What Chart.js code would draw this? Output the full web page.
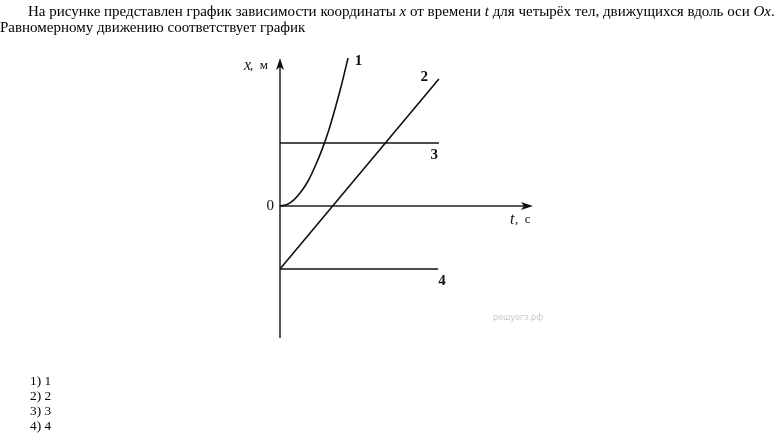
<!DOCTYPE html>
<html>
<head>
<meta charset="utf-8">
<script src="https://cdn.jsdelivr.net/npm/chart.js@4/dist/chart.umd.min.js"></script>
<style>
  body { margin: 0; background: #fff; font-family: "Liberation Serif", "Times New Roman", serif; color: #000; }
  #wrap { position: relative; width: 775px; height: 445px; overflow: hidden; }
  #chart { position: absolute; left: 0; top: 0; }
  .q { position: absolute; left: 0; top: 3px; font-size: 15px; line-height: 16px; white-space: nowrap; }
  .q .ind { padding-left: 28px; }
  .ans { position: absolute; left: 30px; top: 373px; font-size: 13.33px; line-height: 15px; }
</style>
</head>
<body>
<div id="wrap">
  <canvas id="chart" width="775" height="445"></canvas>
  <div class="q"><span class="ind">На рисунке представлен график зависимости координаты <i>x</i> от времени <i>t</i> для четырёх тел, движущихся вдоль оси <i>Ox</i>.</span><br>Равномерному движению соответствует график</div>
  <div class="ans">1) 1<br>2) 2<br>3) 3<br>4) 4</div>
</div>
<script>
// axis ranges (t in arbitrary units, x in arbitrary units)
const tRange = [0, 10];
const xRange = [-6.6, 7.4];

// graph 1 - accelerated motion (parabola-like)
const curve1T = [0, 0.28, 0.55, 0.83, 1.11, 1.38, 1.66, 1.94, 2.21, 2.45, 2.69];
const curve1X = [0, 0.08, 0.31, 0.71, 1.25, 1.96, 2.82, 3.84, 5.02, 6.15, 7.4];

// graph 2 - uniform motion
const line2T = [0, 6.28];
const line2X = [-3.15, 6.35];

// graph 3 - rest at positive x
const line3T = [0, 6.28];
const line3X = [3.15, 3.15];

// graph 4 - rest at negative x
const line4T = [0, 6.25];
const line4X = [-3.15, -3.15];

// labels of the graphs: [t, x, text]
const graphLabels = [
  { t: 3.1, x: 7.25, text: '1' },
  { t: 5.7, x: 6.45, text: '2' },
  { t: 6.1, x: 2.55, text: '3' },
  { t: 6.4, x: -3.75, text: '4' }
];

const toPoints = (ts, xs) => ts.map((t, i) => ({ x: t, y: xs[i] }));

const lineStyle = {
  borderColor: '#111',
  borderWidth: 1.6,
  pointRadius: 0,
  fill: false,
  showLine: true
};

// draw axes with arrows and the text labels
const axesPlugin = {
  id: 'axesPlugin',
  beforeDatasetsDraw(chart) {
    const { ctx, scales } = chart;
    const sx = scales.x, sy = scales.y;
    const x0 = sx.getPixelForValue(0);
    const y0 = sy.getPixelForValue(0);
    const xEnd = sx.getPixelForValue(tRange[1]);
    const yTop = sy.getPixelForValue(xRange[1]);
    const yBot = sy.getPixelForValue(xRange[0]);

    ctx.save();
    ctx.strokeStyle = '#222';
    ctx.fillStyle = '#111';
    ctx.lineWidth = 1.5;

    ctx.beginPath();
    ctx.moveTo(x0, yBot);
    ctx.lineTo(x0, yTop + 6);
    ctx.moveTo(x0, y0);
    ctx.lineTo(xEnd - 6, y0);
    ctx.stroke();

    // arrow heads
    ctx.beginPath();
    ctx.moveTo(x0, yTop);
    ctx.lineTo(x0 - 4, yTop + 12);
    ctx.lineTo(x0, yTop + 9);
    ctx.lineTo(x0 + 4, yTop + 12);
    ctx.closePath();
    ctx.fill();

    ctx.beginPath();
    ctx.moveTo(xEnd, y0);
    ctx.lineTo(xEnd - 12, y0 - 4);
    ctx.lineTo(xEnd - 9, y0);
    ctx.lineTo(xEnd - 12, y0 + 4);
    ctx.closePath();
    ctx.fill();

    // axis labels
    ctx.textBaseline = 'middle';
    ctx.fillStyle = '#111';
    ctx.textAlign = 'right';
    ctx.font = 'italic 16px "Liberation Serif", serif';
    ctx.fillText('x', x0 - 29, yTop + 8);
    ctx.font = '13px "Liberation Serif", serif';
    ctx.fillText(',  м', x0 - 12, yTop + 8);

    ctx.font = '15px "Liberation Serif", serif';
    ctx.fillText('0', x0 - 6, y0);

    ctx.textAlign = 'left';
    ctx.font = 'italic 16px "Liberation Serif", serif';
    ctx.fillText('t', xEnd - 23, y0 + 14);
    ctx.font = '13px "Liberation Serif", serif';
    ctx.fillText(',  с', xEnd - 18, y0 + 14);

    // graph numbers
    ctx.textAlign = 'center';
    ctx.font = 'bold 15px "Liberation Serif", serif';
    graphLabels.forEach(l => {
      ctx.fillText(l.text, sx.getPixelForValue(l.t), sy.getPixelForValue(l.x));
    });

    // watermark
    ctx.fillStyle = '#c8c8c8';
    ctx.font = '8px "DejaVu Sans", sans-serif';
    ctx.textAlign = 'left';
    ctx.fillText('решуогэ.рф', 493, 318);
    ctx.restore();
  }
};

new Chart(document.getElementById('chart'), {
  type: 'scatter',
  data: {
    datasets: [
      { ...lineStyle, data: toPoints(curve1T, curve1X), cubicInterpolationMode: 'monotone' },
      { ...lineStyle, data: toPoints(line2T, line2X) },
      { ...lineStyle, data: toPoints(line3T, line3X) },
      { ...lineStyle, data: toPoints(line4T, line4X) }
    ]
  },
  options: {
    responsive: false,
    animation: false,
    layout: { padding: { left: 280, right: 242, top: 58, bottom: 107 } },
    plugins: { legend: { display: false }, tooltip: { enabled: false } },
    scales: {
      x: { type: 'linear', min: tRange[0], max: tRange[1], display: false },
      y: { type: 'linear', min: xRange[0], max: xRange[1], display: false }
    }
  },
  plugins: [axesPlugin]
});
</script>
</body>
</html>
